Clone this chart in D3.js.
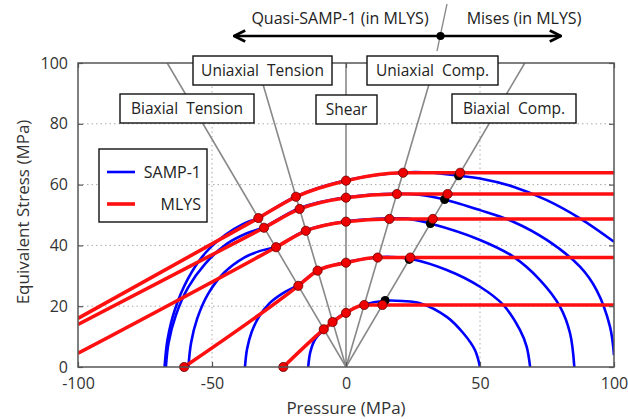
<!DOCTYPE html>
<html>
<head>
<meta charset="utf-8">
<script src="https://cdn.jsdelivr.net/npm/d3@7"></script>
<style>
  body { margin: 0; background: #fff; }
  svg text { font-family: "Open Sans", "DejaVu Sans", sans-serif; }
</style>
</head>
<body>
<div id="chart"></div>
<script>
// ---- data ----
var xTicks = [-100, -50, 0, 50, 100];
var yTicks = [0, 20, 40, 60, 80, 100];
var xGrid = [-50, 50];
var yGrid = [20, 40, 60, 80];

// stress-state rays from the origin, given by their x at stress = 100
var rayTops = [-66.7, -33.3, 0, 33.3, 66.7];
var stateLabels = ['Biaxial  Tension', 'Uniaxial  Tension', 'Shear', 'Uniaxial  Comp.', 'Biaxial  Comp.'];

// SAMP-1 yield curves (blue)
var samp1 = [
  [[-14.1,0],[-13.3,5],[-11.4,9.3],[-8.1,12.4],[-5,15],[0,18],[6.8,20.6],[14.6,21.8],[21,21.7],[27.6,21.0],[37.6,16.5],[43.8,11.1],[48.1,5.6],[50,0]],
  [[-37.7,0],[-36.9,6],[-35.2,11.5],[-32.5,16.5],[-28.5,21],[-23.5,24.3],[-17.8,27],[-10.6,31.7],[0,34.5],[11.8,36.1],[17,36.2],[23.9,35.6],[37.6,31.9],[50,26.4],[58.7,20.4],[64.9,12.2],[67.4,6.7],[68.7,0]],
  [[-58.8,0],[-57.8,8],[-55.5,16],[-51.5,24],[-45.5,31],[-38,36],[-32,38.2],[-26.1,39.6],[-15,44.9],[0,47.9],[16.2,48.9],[23,48.8],[31.5,47.2],[50,41.8],[62.4,36.3],[72.4,28.6],[79.9,19.8],[83.6,11.1],[85.2,0]],
  [[-67.2,0],[-66.2,8],[-63.5,17],[-59,26],[-52.5,34],[-44.5,40.5],[-37,44],[-30.6,46],[-17.2,52.3],[0,55.8],[19.2,57.0],[28,56.6],[36.8,55.1],[50,51.6],[62.4,47.8],[74.9,41.8],[87.3,33.0],[93.5,25.3],[98.5,13.3],[100,3.9]],
  [[-67.7,0],[-66.6,9],[-63.8,19],[-59,29],[-52.5,37.5],[-45,43.5],[-38.5,47],[-32.7,49.1],[-18.7,56.1],[0,61.4],[21.4,64.0],[31,64.0],[42.0,62.9],[50,62.0],[62.4,59.3],[74.9,54.9],[87.3,48.9],[100,41.2]]
];

// MLYS curves (red): start point, then the five stress-state points
var mlysStart = [[-23.4,0],[-60.4,0],[-100,4.5],[-100,14.0],[-100,16.0]];
var mlysDots = [
  [[-8.3,12.4],[-5.0,14.8],[0,17.8],[6.8,20.4],[13.6,20.4]],
  [[-17.8,26.7],[-10.6,31.7],[0,34.3],[11.8,36.0],[24.0,36.0]],
  [[-26.1,39.4],[-15.0,44.8],[0,47.8],[16.2,48.7],[32.4,48.7]],
  [[-30.6,45.8],[-17.3,52.0],[0,55.7],[19.0,56.9],[37.9,56.9]],
  [[-32.7,49.0],[-18.7,56.0],[0,61.3],[21.3,63.9],[42.6,63.9]]
];
// SAMP-1 biaxial compression points (black)
var sampBC = [[14.6,21.9],[23.6,35.4],[31.5,47.2],[36.8,55.1],[42.0,62.9]];

var seriesNames = ['SAMP-1', 'MLYS'];

// ---- layout ----
var W = 628, H = 419;
var svg = d3.select('#chart').append('svg').attr('width', W).attr('height', H);

var x = d3.scaleLinear().domain([-100, 100]).range([78, 614]);
var y = d3.scaleLinear().domain([0, 100]).range([367, 63]);

svg.append('clipPath').attr('id', 'plot')
  .append('rect').attr('x', 78).attr('y', 63).attr('width', 536).attr('height', 304);

var plot = svg.append('g').attr('clip-path', 'url(#plot)');

// grid
plot.selectAll('.gx').data(xGrid).enter().append('line')
  .attr('x1', d => x(d)).attr('x2', d => x(d)).attr('y1', y(0)).attr('y2', y(100))
  .attr('stroke', '#aaa').attr('stroke-dasharray', '1.5,3');
plot.selectAll('.gy').data(yGrid).enter().append('line')
  .attr('x1', x(-100)).attr('x2', x(100)).attr('y1', d => y(d)).attr('y2', d => y(d))
  .attr('stroke', '#aaa').attr('stroke-dasharray', '1.5,3');

// rays
plot.selectAll('.ray').data(rayTops).enter().append('line')
  .attr('x1', x(0)).attr('y1', y(0)).attr('x2', d => x(d)).attr('y2', y(100))
  .attr('stroke', '#888').attr('stroke-width', 1.6);

var blueLine = d3.line().x(d => x(d[0])).y(d => y(d[1])).curve(d3.curveCatmullRom.alpha(0.5));
var redLine = d3.line().x(d => x(d[0])).y(d => y(d[1])).curve(d3.curveMonotoneX);

plot.selectAll('.samp').data(samp1).enter().append('path')
  .attr('d', blueLine).attr('fill', 'none').attr('stroke', '#0000ff').attr('stroke-width', 2.6);

var mlysPts = mlysDots.map(function(dots, i) {
  var last = dots[dots.length - 1];
  return [mlysStart[i]].concat(dots).concat([[100, last[1]]]);
});
plot.selectAll('.mlys').data(mlysPts).enter().append('path')
  .attr('d', redLine).attr('fill', 'none').attr('stroke', '#ff1010').attr('stroke-width', 3.6);

// black dots
svg.selectAll('.bdot').data(sampBC).enter().append('circle')
  .attr('cx', d => x(d[0])).attr('cy', d => y(d[1])).attr('r', 4.5).attr('fill', '#000');

// red dots
var redDots = [];
mlysDots.forEach(function(dots, i) {
  if (mlysStart[i][1] === 0) redDots.push(mlysStart[i]);
  dots.forEach(function(p) { redDots.push(p); });
});
svg.selectAll('.rdot').data(redDots).enter().append('circle')
  .attr('cx', d => x(d[0])).attr('cy', d => y(d[1])).attr('r', 4.6)
  .attr('fill', '#ee0000').attr('stroke', '#600').attr('stroke-width', 0.8);

// axes (inward ticks, mirrored)
function styleAxis(g) {
  g.select('.domain').remove();
  g.selectAll('.tick line').attr('stroke', '#555').attr('stroke-width', 1.2);
  g.selectAll('.tick text').attr('fill', '#333').attr('font-size', 16);
}
var plain = function(d) { return String(d); };
svg.append('g').attr('transform', 'translate(0,' + y(0) + ')')
  .call(d3.axisBottom(x).tickValues(xTicks).tickFormat(plain).tickSizeInner(-5).tickSizeOuter(0).tickPadding(11))
  .call(styleAxis);
svg.append('g').attr('transform', 'translate(0,' + y(100) + ')')
  .call(d3.axisTop(x).tickValues(xTicks).tickSizeInner(-5).tickSizeOuter(0).tickFormat(''))
  .call(styleAxis);
svg.append('g').attr('transform', 'translate(' + x(-100) + ',0)')
  .call(d3.axisLeft(y).tickValues(yTicks).tickFormat(plain).tickSizeInner(-5).tickSizeOuter(0).tickPadding(10))
  .call(styleAxis);
svg.append('g').attr('transform', 'translate(' + x(100) + ',0)')
  .call(d3.axisRight(y).tickValues(yTicks).tickSizeInner(-5).tickSizeOuter(0).tickFormat(''))
  .call(styleAxis);

svg.append('rect').attr('x', 78).attr('y', 63).attr('width', 536).attr('height', 304)
  .attr('fill', 'none').attr('stroke', '#555').attr('stroke-width', 1.5);

svg.append('text').attr('x', 346).attr('y', 414).attr('text-anchor', 'middle')
  .attr('font-size', 17).attr('fill', '#333').text('Pressure (MPa)');
svg.append('text').attr('transform', 'translate(29,212) rotate(-90)').attr('text-anchor', 'middle')
  .attr('font-size', 17).attr('fill', '#333').text('Equivalent Stress (MPa)');

// stress-state boxes
var boxes = [[120, 94, 134, 29], [193, 56, 139, 29], [316, 95, 61, 29], [367, 56, 131, 29], [452, 94, 124, 29]];
boxes.forEach(function(b, i) {
  svg.append('rect').attr('x', b[0]).attr('y', b[1]).attr('width', b[2]).attr('height', b[3])
    .attr('fill', '#fff').attr('stroke', '#111').attr('stroke-width', 1.4);
  svg.append('text').attr('x', b[0] + b[2] / 2).attr('y', b[1] + b[3] / 2 + 5.5)
    .attr('text-anchor', 'middle').attr('font-size', 15.5).attr('fill', '#222')
    .style('white-space', 'pre').text(stateLabels[i]);
});

// legend
var leg = svg.append('g');
leg.append('rect').attr('x', 99).attr('y', 149).attr('width', 108).attr('height', 73)
  .attr('fill', '#fff').attr('stroke', '#111').attr('stroke-width', 1.4);
[['#0000ff', 172], ['#ff1010', 204]].forEach(function(s, i) {
  leg.append('line').attr('x1', 107).attr('x2', 135).attr('y1', s[1]).attr('y2', s[1])
    .attr('stroke', s[0]).attr('stroke-width', i ? 3.6 : 2.6);
  leg.append('text').attr('x', 201).attr('y', s[1] + 6).attr('text-anchor', 'end')
    .attr('font-size', 16).attr('fill', '#222').text(seriesNames[i]);
});

// top annotation
svg.append('defs').append('marker').attr('id', 'chev').attr('viewBox', '0 0 10 10')
  .attr('refX', 9).attr('refY', 5)
  .attr('orient', 'auto-start-reverse').attr('markerUnits', 'userSpaceOnUse')
  .attr('markerWidth', 14).attr('markerHeight', 14)
  .append('path').attr('d', 'M1,1 L9,5 L1,9').attr('fill', 'none').attr('stroke', '#000').attr('stroke-width', 2);
svg.append('line').attr('x1', 234).attr('x2', 561).attr('y1', 36).attr('y2', 36)
  .attr('stroke', '#000').attr('stroke-width', 2.4)
  .attr('marker-start', 'url(#chev)').attr('marker-end', 'url(#chev)');
svg.append('line').attr('x1', 447).attr('y1', 4).attr('x2', 437).attr('y2', 51)
  .attr('stroke', '#888').attr('stroke-width', 1.3);
svg.append('circle').attr('cx', 440.5).attr('cy', 36).attr('r', 4).attr('fill', '#000');
svg.append('text').attr('x', 340).attr('y', 24).attr('text-anchor', 'middle')
  .attr('font-size', 16).attr('fill', '#222').text('Quasi-SAMP-1 (in MLYS)');
svg.append('text').attr('x', 524).attr('y', 24).attr('text-anchor', 'middle')
  .attr('font-size', 16).attr('fill', '#222').text('Mises (in MLYS)');
</script>
</body>
</html>
